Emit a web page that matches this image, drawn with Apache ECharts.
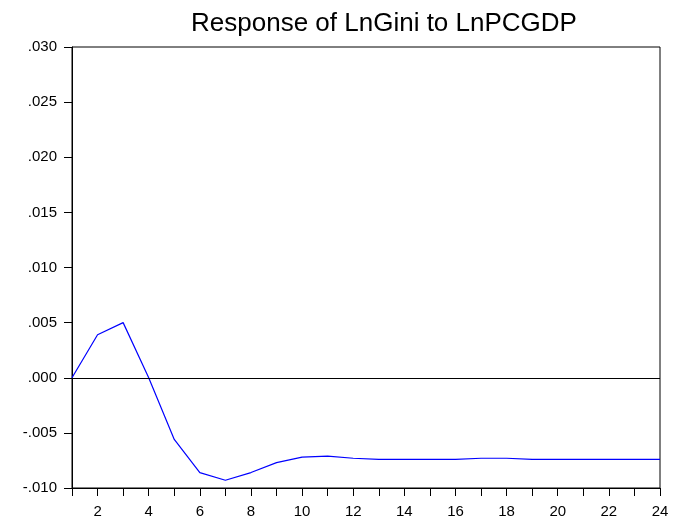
<!DOCTYPE html>
<html>
<head>
<meta charset="utf-8">
<script src="https://cdn.jsdelivr.net/npm/echarts@6/dist/echarts.min.js"></script>
<style>
html,body{margin:0;padding:0;background:#fff;}
#chart{width:683px;height:524px;}
</style>
</head>
<body>
<div id="chart"></div>
<script>
const periods = [1,2,3,4,5,6,7,8,9,10,11,12,13,14,15,16,17,18,19,20,21,22,23,24];
const response = [0.0000,0.0039,0.0050,0.0000,-0.0056,-0.0086,-0.0093,-0.0086,-0.0077,-0.0072,-0.0071,-0.0073,-0.0074,-0.0074,-0.0074,-0.0074,-0.0073,-0.0073,-0.0074,-0.0074,-0.0074,-0.0074,-0.0074,-0.0074];
const yTicks = {min:-0.010, max:0.030, interval:0.005};
const titleText = 'Response of LnGini to LnPCGDP';

const chart = echarts.init(document.getElementById('chart'), null, {renderer:'canvas'});
const fontFam = '"Liberation Sans", Arial, Helvetica, sans-serif';
chart.setOption({
  animation:false,
  backgroundColor:'#fff',
  title:{
    text:titleText,
    left:379, top:6, textAlign:'center',
    textStyle:{fontFamily:fontFam, fontSize:26, fontWeight:'normal', color:'#000'}
  },
  grid:{left:72, right:23, top:47, bottom:36, show:true, borderColor:'#000', borderWidth:1, backgroundColor:'transparent'},
  xAxis:{
    type:'category',
    data:periods.map(String),
    boundaryGap:false,
    axisLine:{onZero:false, lineStyle:{color:'#000', width:1}},
    axisTick:{show:true, interval:0, length:8, lineStyle:{color:'#000'}},
    axisLabel:{interval:(i,v)=>(+v)%2===0, color:'#000', fontFamily:fontFam, fontSize:15, margin:16},
    splitLine:{show:false}
  },
  yAxis:{
    type:'value',
    min:yTicks.min, max:yTicks.max, interval:yTicks.interval,
    axisLine:{show:true, lineStyle:{color:'#000', width:1}},
    axisTick:{show:true, length:8, lineStyle:{color:'#000'}},
    axisLabel:{color:'#000', fontFamily:fontFam, fontSize:15, margin:15,
      formatter:v=>{let s=Math.abs(v)<1e-9?'0.000':v.toFixed(3); return s.replace(/^(-?)0\./,'$1.');}},
    splitLine:{show:false}
  },
  series:[{
    type:'line',
    data:response,
    symbol:'none',
    lineStyle:{color:'#0000ff', width:1.2},
    markLine:{
      silent:true, symbol:'none', label:{show:false},
      lineStyle:{color:'#000', type:'solid', width:1},
      data:[{yAxis:0}]
    }
  }]
});
</script>
</body>
</html>
